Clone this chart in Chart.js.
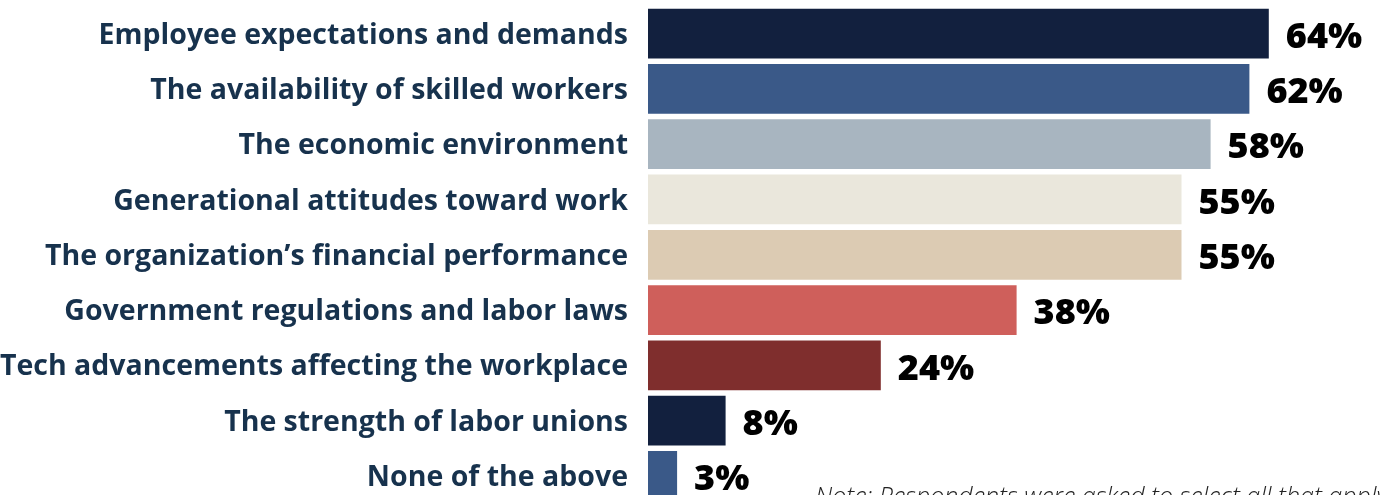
<!DOCTYPE html>
<html lang="en">
  <head>
    <meta charset="UTF-8" />
    <title>Factors influencing workforce plans</title>
    <script src="https://cdn.jsdelivr.net/npm/chart.js@4"></script>
    <style>
      html, body { margin: 0; padding: 0; background: #fff; overflow: hidden; }
      .wrap { position: relative; width: 1380px; height: 510px; }
      .note {
        position: absolute; left: 815px; top: 483px; white-space: nowrap;
        font: italic 300 25px/1 "Open Sans", sans-serif; color: #222;
      }
    </style>
  </head>
  <body>
    <div class="wrap">
      <canvas id="factorsChart"></canvas>
      <div class="note">Note: Respondents were asked to select all that apply.</div>
    </div>

    <script>
      // Data
      const categories = [
        "Employee expectations and demands",
        "The availability of skilled workers",
        "The economic environment",
        "Generational attitudes toward work",
        "The organization\u2019s financial performance",
        "Government regulations and labor laws",
        "Tech advancements affecting the workplace",
        "The strength of labor unions",
        "None of the above",
      ];
      const percentages = [64, 62, 58, 55, 55, 38, 24, 8, 3];
      const barColors = [
        "#12203e", "#3a5988", "#a8b5c0", "#eae7dc", "#dccbb3",
        "#cf5f5b", "#7f2e2d", "#12203e", "#3a5988",
      ];

      // value labels right of each bar
      const valueLabels = {
        id: "valueLabels",
        afterDatasetsDraw(chart) {
          const ctx = chart.ctx;
          const meta = chart.getDatasetMeta(0);
          ctx.save();
          ctx.font = '800 36px "Open Sans", sans-serif';
          ctx.fillStyle = "#000";
          ctx.textAlign = "left";
          ctx.textBaseline = "middle";
          meta.data.forEach((bar, i) => {
            ctx.fillText(percentages[i] + "%", bar.x + 17, bar.y + 4);
          });
          ctx.restore();
        },
      };

      new Chart(document.getElementById("factorsChart"), {
        type: "bar",
        data: {
          labels: categories,
          datasets: [
            {
              data: percentages,
              backgroundColor: barColors,
              categoryPercentage: 1,
              barPercentage: 0.9,
            },
          ],
        },
        options: {
          indexAxis: "y",
          responsive: true,
          maintainAspectRatio: false,
          animation: false,
          layout: { padding: { top: 6, bottom: 6.5, right: 4.5 } },
          plugins: { legend: { display: false }, tooltip: { enabled: false } },
          scales: {
            x: { display: false, min: 0, max: 75 },
            y: {
              // fixed axis width so bars start at x=648, no extra label padding
              afterFit: (scale) => {
                scale.width = 648;
                scale.paddingTop = 0;
                scale.paddingBottom = 0;
              },
              grid: { display: false, drawTicks: false },
              border: { display: false },
              ticks: {
                padding: 20,
                labelOffset: 2,
                color: "#17324d",
                font: { family: "Open Sans", size: 28.5, weight: "bold" },
              },
            },
          },
        },
        plugins: [valueLabels],
      });
    </script>
  </body>
</html>
